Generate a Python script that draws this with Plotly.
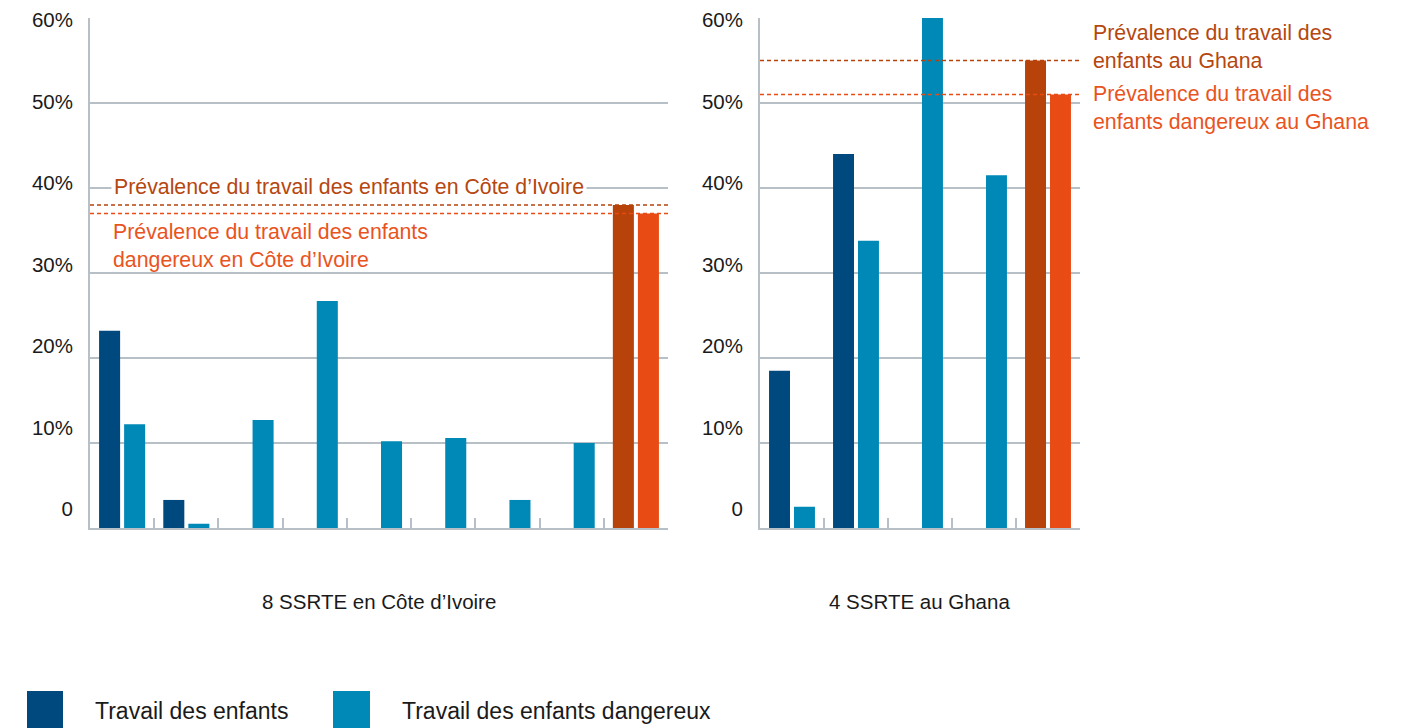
import plotly.graph_objects as go

# Données (en %)
groupes_ci = ["ci1", "ci2", "ci3", "ci4", "ci5", "ci6", "ci7", "ci8", "ci_prev"]
travail_ci = [23.2, 3.3, None, None, None, None, None, None]
dangereux_ci = [12.2, 0.5, 12.7, 26.7, 10.2, 10.6, 3.3, 10.0]
prev_travail_ci = 38.0
prev_dangereux_ci = 37.0

groupes_gh = ["gh1", "gh2", "gh3", "gh4", "gh_prev"]
travail_gh = [18.5, 44.0, None, None]
dangereux_gh = [2.5, 33.8, 60.4, 41.5]
prev_travail_gh = 55.0
prev_dangereux_gh = 51.0

ticks_y = [0, 10, 20, 30, 40, 50, 60]
ticks_txt = ["0", "10%", "20%", "30%", "40%", "50%", "60%"]

BLEU_FONCE = "#00497F"
BLEU_CLAIR = "#0089B7"
ORANGE_FONCE = "#B8430A"
ORANGE = "#E84C14"
GRIS = "#B6C0C6"
NOIR = "#1a1a1a"
POLICE = "Liberation Sans, Arial, sans-serif"

# la page ajoute une marge de 8 px autour de la figure
DEC = 8
W, H = 1404 - 2 * DEC, 728 - DEC


def px_x(p):
    return (p - DEC) / W


def px_y(p):
    return 1 - (p - DEC) / H


fig = go.Figure()

# Côte d'Ivoire
fig.add_trace(go.Bar(x=groupes_ci[:8], y=travail_ci, marker_color=BLEU_FONCE,
                     offsetgroup="a", xaxis="x", yaxis="y", cliponaxis=False))
fig.add_trace(go.Bar(x=groupes_ci[:8], y=dangereux_ci, marker_color=BLEU_CLAIR,
                     offsetgroup="b", xaxis="x", yaxis="y", cliponaxis=False))
fig.add_trace(go.Bar(x=[groupes_ci[8]], y=[prev_travail_ci], marker_color=ORANGE_FONCE,
                     offsetgroup="a", xaxis="x", yaxis="y", cliponaxis=False))
fig.add_trace(go.Bar(x=[groupes_ci[8]], y=[prev_dangereux_ci], marker_color=ORANGE,
                     offsetgroup="b", xaxis="x", yaxis="y", cliponaxis=False))

# Ghana
fig.add_trace(go.Bar(x=groupes_gh[:4], y=travail_gh, marker_color=BLEU_FONCE,
                     offsetgroup="a", xaxis="x2", yaxis="y2", cliponaxis=False))
fig.add_trace(go.Bar(x=groupes_gh[:4], y=dangereux_gh, marker_color=BLEU_CLAIR,
                     offsetgroup="b", xaxis="x2", yaxis="y2", cliponaxis=False))
fig.add_trace(go.Bar(x=[groupes_gh[4]], y=[prev_travail_gh], marker_color=ORANGE_FONCE,
                     offsetgroup="a", xaxis="x2", yaxis="y2", cliponaxis=False))
fig.add_trace(go.Bar(x=[groupes_gh[4]], y=[prev_dangereux_gh], marker_color=ORANGE,
                     offsetgroup="b", xaxis="x2", yaxis="y2", cliponaxis=False))

# petits sous-graphes invisibles qui portent les étiquettes de l'axe y
fig.add_trace(go.Scatter(x=[0, 0], y=[0, 60], mode="markers", marker_opacity=0,
                         xaxis="x3", yaxis="y3", hoverinfo="skip"))
fig.add_trace(go.Scatter(x=[0, 0], y=[0, 60], mode="markers", marker_opacity=0,
                         xaxis="x4", yaxis="y4", hoverinfo="skip"))

fig.update_traces(showlegend=False)
fig.update_traces(marker_line_width=0, selector=dict(type="bar"))

# axes x (catégories, graduations aux limites des groupes)
ax_x = dict(type="category", showgrid=False, showline=True, linecolor=GRIS, linewidth=2,
            ticks="inside", tickson="boundaries", ticklen=10, tickcolor=GRIS, tickwidth=2,
            showticklabels=False, fixedrange=True, automargin=False)
# axes y (grille)
ax_y = dict(range=[0, 60], domain=[px_y(528), px_y(18)], showgrid=True, gridcolor=GRIS,
            gridwidth=1.5, tickvals=ticks_y, showline=True, linecolor=GRIS, linewidth=2,
            zeroline=False, showticklabels=False, automargin=False)
# axes y (étiquettes, décalées comme dans l'original)
ax_lbl = dict(range=[0, 60], domain=[px_y(509), px_y(20)], showgrid=False,
              showline=False, zeroline=False, tickvals=ticks_y, ticktext=ticks_txt,
              ticks="", ticklabelstandoff=14, tickfont=dict(size=20.5, color=NOIR),
              automargin=False)
ax_lbl_x = dict(visible=False, showgrid=False, zeroline=False, range=[-1, 1],
                automargin=False)

fig.update_layout(
    width=W, height=H,
    margin=dict(l=0, r=0, t=0, b=0, autoexpand=False),
    paper_bgcolor="white", plot_bgcolor="rgba(0,0,0,0)",
    font=dict(family=POLICE, size=20, color=NOIR),
    barmode="group", bargap=0.22, bargroupgap=0.16,
    xaxis=dict(ax_x, domain=[px_x(90), px_x(668)], anchor="y"),
    yaxis=dict(ax_y, anchor="x"),
    xaxis2=dict(ax_x, domain=[px_x(760), px_x(1080)], anchor="y2"),
    yaxis2=dict(ax_y, anchor="x2"),
    xaxis3=dict(ax_lbl_x, domain=[px_x(88), px_x(90)], anchor="y3"),
    yaxis3=dict(ax_lbl, anchor="x3"),
    xaxis4=dict(ax_lbl_x, domain=[px_x(758), px_x(760)], anchor="y4"),
    yaxis4=dict(ax_lbl, anchor="x4"),
)

# lignes de prévalence (pointillés)
for xr, yr, val, col in [("x domain", "y", prev_travail_ci, ORANGE_FONCE),
                         ("x domain", "y", prev_dangereux_ci, ORANGE),
                         ("x2 domain", "y2", prev_travail_gh, ORANGE_FONCE),
                         ("x2 domain", "y2", prev_dangereux_gh, ORANGE)]:
    fig.add_shape(type="line", xref=xr, yref=yr, x0=0, x1=1, y0=val, y1=val,
                  line=dict(color=col, width=1.3, dash="4px,3px"), layer="above")

# textes de prévalence
fig.add_annotation(text="Prévalence du travail des enfants en Côte d’Ivoire",
                   xref="paper", yref="paper", x=px_x(111), y=px_y(187),
                   xanchor="left", yanchor="middle", showarrow=False, bgcolor="white",
                   borderpad=2, font=dict(size=21.3, color="#B5470F"))
fig.add_annotation(text="Prévalence du travail des enfants<br>dangereux en Côte d’Ivoire",
                   xref="paper", yref="paper", x=px_x(111), y=px_y(246), align="left",
                   xanchor="left", yanchor="middle", showarrow=False,
                   font=dict(size=21.3, color="#E9541E"))
fig.add_annotation(text="Prévalence du travail des<br>enfants au Ghana",
                   xref="paper", yref="paper", x=px_x(1091), y=px_y(47), align="left",
                   xanchor="left", yanchor="middle", showarrow=False,
                   font=dict(size=21.3, color="#B5470F"))
fig.add_annotation(text="Prévalence du travail des<br>enfants dangereux au Ghana",
                   xref="paper", yref="paper", x=px_x(1091), y=px_y(108), align="left",
                   xanchor="left", yanchor="middle", showarrow=False,
                   font=dict(size=21.3, color="#E9541E"))

# titres des panneaux
fig.add_annotation(text="8 SSRTE en Côte d’Ivoire", xref="x domain", yref="paper",
                   x=0.5, y=px_y(601), showarrow=False, yanchor="middle",
                   font=dict(size=20.5, color=NOIR))
fig.add_annotation(text="4 SSRTE au Ghana", xref="x2 domain", yref="paper",
                   x=0.5, y=px_y(601), showarrow=False, yanchor="middle",
                   font=dict(size=20.5, color=NOIR))

# légende
for x0, x1, col, label, tx in [(27, 63, BLEU_FONCE, "Travail des enfants", 93),
                               (333, 370, BLEU_CLAIR, "Travail des enfants dangereux", 400)]:
    fig.add_shape(type="rect", xref="paper", yref="paper", x0=px_x(x0), x1=px_x(x1),
                  y0=0, y1=px_y(691), fillcolor=col, line_width=0)
    fig.add_annotation(text=label, xref="paper", yref="paper", x=px_x(tx), y=px_y(711),
                       xanchor="left", yanchor="middle", showarrow=False,
                       font=dict(size=23, color=NOIR))

fig.write_html("out.html")
